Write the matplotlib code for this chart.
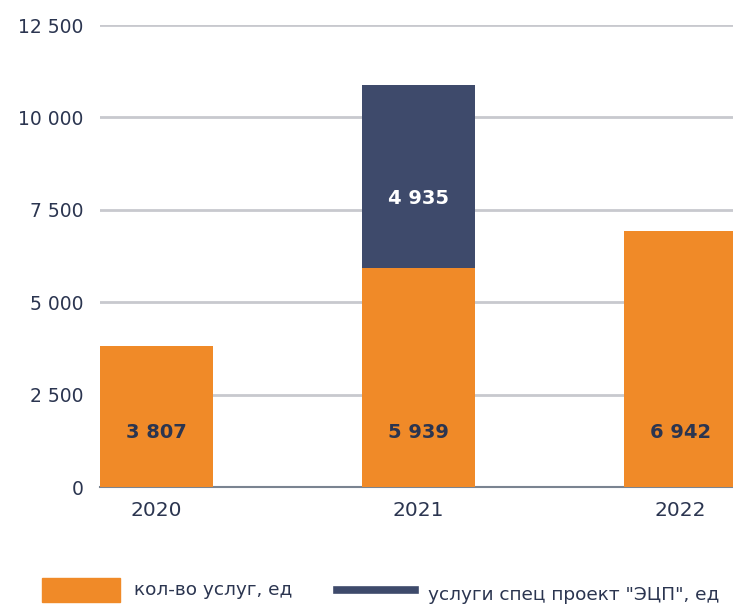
import matplotlib
matplotlib.use("Agg")
import matplotlib.pyplot as plt
from matplotlib.patches import Rectangle
from matplotlib.lines import Line2D

# -------------------------------
# Datos
# -------------------------------
years = ["2020", "2021", "2022"]
uslugi = [3807, 5939, 6942]
ecp = [0, 4935, 0]
yticks = [0, 2500, 5000, 7500, 10000, 12500]
ytick_labels = ["0", "2 500", "5 000", "7 500", "10 000", "12 500"]
label_uslugi = "кол-во услуг, ед"
label_ecp = 'услуги спец проект "ЭЦП", ед'

ORANGE = "#f08a28"
NAVY = "#3e4a6b"
TEXT = "#2b3550"

plt.rcParams["font.family"] = ["DejaVu Sans"]

fig = plt.figure(figsize=(7.33, 6.06), dpi=100)
ax = fig.add_axes([0.1364, 0.196, 0.8636, 0.7627])

x = list(range(len(years)))
w = 0.431
ax.bar(x, uslugi, width=w, color=ORANGE, zorder=3)
ax.bar(x, ecp, width=w, bottom=uslugi, color=NAVY, zorder=3)

# etiquetas de valores
for i, v in enumerate(uslugi):
    ax.text(i, 1490, f"{v:,}".replace(",", " "), ha="center", va="center",
            fontsize=14, fontweight="bold", color=TEXT, zorder=4)
for i, v in enumerate(ecp):
    if v:
        ax.text(i, 7820, f"{v:,}".replace(",", " "), ha="center", va="center",
                fontsize=14, fontweight="bold", color="white", zorder=4)

ax.set_xlim(-w / 2, 2.2)
ax.set_ylim(0, 12500)
ax.set_yticks(yticks)
ax.set_yticklabels(ytick_labels)
ax.set_xticks(x)
ax.set_xticklabels(years)
ax.yaxis.grid(True, color="#c8c9ce", linewidth=2, zorder=0)
ax.set_axisbelow(True)
for s in ["top", "right", "left"]:
    ax.spines[s].set_visible(False)
ax.spines["bottom"].set_color("#7a8491")
ax.spines["bottom"].set_linewidth(1.5)
ax.spines["bottom"].set_zorder(2)
ax.tick_params(axis="y", length=0, labelsize=13.5, colors=TEXT, pad=12)
ax.tick_params(axis="x", length=0, labelsize=14.5, colors=TEXT, pad=10)

# -------------------------------
# Leyenda manual
# -------------------------------
fig.patches.append(Rectangle((42 / 733, 1 - 602 / 606), 78 / 733, 24 / 606,
                             transform=fig.transFigure, color=ORANGE))
fig.text(134 / 733, 1 - 590 / 606, label_uslugi, ha="left", va="center",
         fontsize=13.3, color=TEXT)
fig.lines.append(Line2D([337 / 733, 415 / 733], [1 - 590 / 606, 1 - 590 / 606],
                        transform=fig.transFigure, color=NAVY, linewidth=5.5))
fig.text(428 / 733, 1 - 595 / 606, label_ecp, ha="left", va="center",
         fontsize=13.3, color=TEXT)

fig.savefig("out.png", dpi=100)
